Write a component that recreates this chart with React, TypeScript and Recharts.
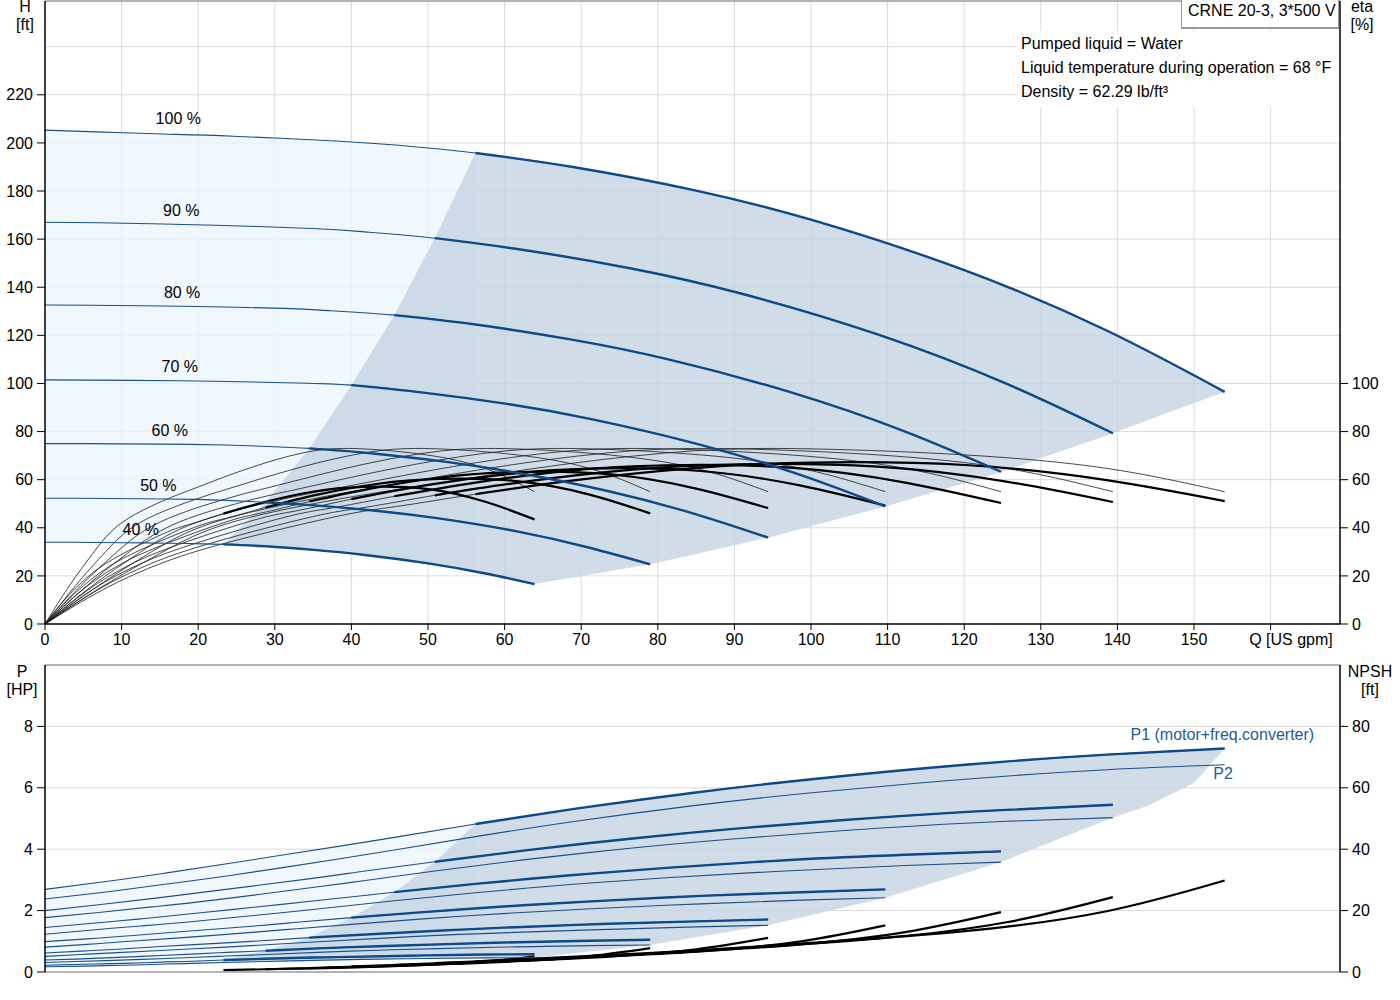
import React from "react";
import {
  Area,
  CartesianGrid,
  ComposedChart,
  Line,
  ReferenceDot,
  ReferenceLine,
  XAxis,
  YAxis,
} from "recharts";

const FONT = '"Liberation Sans", Arial, Helvetica, sans-serif';
const BLUE = "#0d4a87";
const BLUE_THIN = "#1b5089";
const LABEL_BLUE = "#1f5a96";
const LIGHT_FILL = "#ecf5fd";
const DARK_FILL = "#c4d3e2";
const GRID = "#d9d9d9";

const SPEEDS = ["100 %", "90 %", "80 %", "70 %", "60 %", "50 %", "40 %"];
// where each speed label sits (Q, H)
const LABEL_Q = [17.4, 17.8, 17.9, 17.6, 16.3, 14.8, 12.5];
const LABEL_H = [210.4, 172.1, 138, 107.3, 80.7, 57.8, 39.5];

// flow points on each speed curve [US gpm]; index THICK_FROM = start of the operating range
const THICK_FROM = 6;
const FLOW = [
  [0, 7.7, 15.4, 24.6, 38.5, 46.2, 56.2, 69.3, 84.7, 100.1, 120.1, 138.6, 154],
  [0, 7, 13.9, 22.3, 34.9, 41.8, 50.9, 62.7, 76.7, 90.6, 108.7, 125.5, 139.4],
  [0, 6.2, 12.5, 20, 31.2, 37.4, 45.6, 56.2, 68.6, 81.1, 97.3, 112.3, 124.8],
  [0, 5.5, 11, 17.6, 27.4, 32.9, 40, 49.4, 60.3, 71.3, 85.6, 98.7, 109.7],
  [0, 4.7, 9.4, 15.1, 23.6, 28.3, 34.5, 42.5, 51.9, 61.4, 73.6, 85, 94.4],
  [0, 4, 7.9, 12.6, 19.8, 23.7, 28.8, 35.6, 43.5, 51.4, 61.6, 71.1, 79],
  [0, 3.2, 6.4, 10.2, 16, 19.2, 23.3, 28.8, 35.1, 41.5, 49.8, 57.5, 63.9],
];

// head [ft]
const HEAD = [
  [205.3, 204.5, 203.7, 202.8, 200.7, 199, 195.8, 189.8, 180.4, 168, 147, 122, 96.5],
  [167, 166.8, 166.4, 165.8, 164.4, 163, 160.4, 155.4, 147.7, 137.6, 120.4, 99.9, 79.3],
  [132.6, 132.5, 132.3, 132, 131.2, 130.2, 128.4, 124.5, 118.3, 110.2, 96.4, 80, 63.3],
  [101.5, 101.4, 101.3, 101.1, 100.6, 100.2, 99.3, 96.2, 91.5, 85.2, 74.5, 61.9, 48.9],
  [75, 75, 74.9, 74.8, 74.4, 73.9, 73, 71, 67.6, 63, 55.2, 45.6, 35.9],
  [52.3, 52.3, 52.2, 52.1, 51.8, 51.4, 50.6, 49.2, 47, 43.9, 38.5, 31.7, 24.8],
  [34, 34, 33.9, 33.8, 33.6, 33.4, 33.1, 32.3, 30.8, 28.8, 25.3, 21, 16.6],
];

// pump efficiency [%], same shape on every speed curve
const ETA_PUMP = [0, 16, 30, 42.5, 52, 56, 61, 67, 72, 72.8, 70.3, 64.7, 55];

// total efficiency (motor + converter) [%]
const ETA_TOTAL = [
  [0, 14.5, 25.5, 34.5, 45, 49, 54, 59.8, 64.8, 67.1, 66.1, 59.8, 51.1],
  [0, 14.4, 25.2, 34.2, 44.6, 48.5, 53.5, 59.2, 64.2, 66.4, 65.4, 59.2, 50.7],
  [0, 14.3, 25.1, 33.9, 44.3, 48.2, 53.1, 58.8, 63.8, 66, 65, 58.8, 50.3],
  [0, 13.9, 24.5, 33.2, 43.3, 47.1, 51.9, 57.5, 62.3, 64.6, 63.6, 57.5, 49.2],
  [0, 13.7, 24, 32.5, 42.4, 46.2, 50.9, 56.3, 61, 63.2, 62.3, 56.3, 48.2],
  [0, 13, 22.9, 31, 40.5, 44, 48.5, 53.8, 58.3, 60.3, 59.4, 53.8, 46],
  [0, 12.3, 21.7, 29.3, 38.3, 41.7, 45.9, 50.8, 55.1, 57, 56.2, 50.8, 43.5],
];

// P1 (motor + freq. converter) [HP]
const P1 = [
  [2.69, 2.94, 3.21, 3.56, 4.1, 4.41, 4.82, 5.32, 5.84, 6.28, 6.75, 7.08, 7.28],
  [2.0, 2.19, 2.39, 2.65, 3.05, 3.29, 3.59, 3.96, 4.35, 4.68, 5.03, 5.28, 5.45],
  [1.45, 1.59, 1.73, 1.92, 2.21, 2.38, 2.6, 2.87, 3.15, 3.39, 3.65, 3.82, 3.93],
  [0.99, 1.08, 1.18, 1.31, 1.5, 1.62, 1.77, 1.95, 2.14, 2.3, 2.48, 2.6, 2.69],
  [0.62, 0.68, 0.74, 0.83, 0.95, 1.02, 1.12, 1.23, 1.35, 1.46, 1.57, 1.65, 1.71],
  [0.39, 0.42, 0.46, 0.51, 0.59, 0.64, 0.69, 0.77, 0.84, 0.9, 0.97, 1.02, 1.05],
  [0.22, 0.24, 0.26, 0.28, 0.33, 0.35, 0.39, 0.43, 0.47, 0.5, 0.54, 0.57, 0.58],
];

// P2 (shaft) [HP]
const P2 = [
  [2.38, 2.6, 2.85, 3.16, 3.69, 4.0, 4.41, 4.91, 5.42, 5.84, 6.28, 6.59, 6.75],
  [1.77, 1.94, 2.12, 2.35, 2.75, 2.98, 3.29, 3.66, 4.04, 4.35, 4.68, 4.91, 5.03],
  [1.23, 1.37, 1.5, 1.66, 1.94, 2.1, 2.32, 2.58, 2.85, 3.07, 3.3, 3.47, 3.58],
  [0.81, 0.9, 1.0, 1.11, 1.3, 1.41, 1.55, 1.73, 1.91, 2.06, 2.22, 2.34, 2.42],
  [0.51, 0.57, 0.63, 0.7, 0.81, 0.88, 0.97, 1.08, 1.2, 1.29, 1.39, 1.47, 1.52],
  [0.31, 0.34, 0.37, 0.41, 0.48, 0.52, 0.57, 0.64, 0.71, 0.76, 0.82, 0.86, 0.88],
  [0.17, 0.18, 0.2, 0.22, 0.26, 0.28, 0.31, 0.34, 0.38, 0.41, 0.44, 0.46, 0.47],
];

// NPSH [ft], only over the operating range (from THICK_FROM)
const NPSH = [
  [3.5, 5, 7, 9.5, 13.3, 19.8, 29.8],
  [2.9, 4.1, 5.7, 7.8, 10.9, 16.2, 24.4],
  [2.3, 3.3, 4.6, 6.2, 8.7, 13, 19.5],
  [1.8, 2.5, 3.5, 4.8, 6.7, 10, 15.2],
  [1.3, 1.9, 2.6, 3.6, 5, 7.4, 11.1],
  [0.9, 1.3, 1.8, 2.5, 3.5, 5.2, 7.8],
  [0.6, 0.9, 1.2, 1.6, 2.3, 3.4, 5.1],
];

// shaded regions, head chart
const H_LIGHT_Q = [0, 7.7, 15.4, 24.6, 38.5, 46.2, 56.2];
const H_LIGHT_LOW = [34, 33.9, 33.8, 32.9, 29.7, 26.8, 21.7];
const H_LIGHT_HIGH = [205.3, 204.5, 203.7, 202.8, 200.7, 199, 195.8];
const H_DARK_Q = [23.3, 28.8, 34.5, 40, 45.6, 50.9, 56.2, 63.9, 69.3, 79, 84.7, 94.4, 100.1, 109.7, 120.1, 124.8, 130, 138.6, 139.4, 147, 154];
const H_DARK_LOW = [33.1, 32.3, 31, 29.3, 27, 24.7, 21.7, 16.6, 19.5, 24.8, 28.9, 35.9, 40.7, 48.8, 58.6, 63.1, 68.9, 78.4, 79.3, 88.3, 96.5];
const H_DARK_HIGH = [33.1, 50.6, 73, 99.3, 128.4, 160.4, 195.8, 192.5, 189.8, 184.2, 180.4, 173, 168, 158.7, 147, 141.1, 134.4, 122, 120.7, 108.6, 96.5];

// shaded regions, power chart
const P_LIGHT_Q = [0, 7.7, 15.4, 24.6, 38.5, 46.2, 56.2];
const P_LIGHT_LOW = [0.17, 0.19, 0.22, 0.3, 0.39, 0.43, 0.46];
const P_LIGHT_HIGH = [2.69, 2.94, 3.21, 3.56, 4.1, 4.41, 4.82];
const P_DARK_Q = [23.3, 28.8, 34.5, 40, 45.6, 50.9, 56.2, 63.9, 69.3, 79, 84.7, 94.4, 100.1, 109.7, 120.1, 124.8, 138.6, 139.4, 143.8, 150, 154];
const P_DARK_LOW = [0.31, 0.35, 0.38, 0.4, 0.43, 0.45, 0.46, 0.47, 0.62, 0.88, 1.12, 1.52, 1.86, 2.42, 3.22, 3.58, 4.95, 5.03, 5.4, 6.16, 7.28];
const P_DARK_HIGH = [0.39, 0.69, 1.12, 1.77, 2.6, 3.59, 4.82, 5.12, 5.32, 5.65, 5.84, 6.13, 6.28, 6.52, 6.75, 6.85, 7.08, 7.09, 7.16, 7.24, 7.28];

const Q_TICKS = [0, 10, 20, 30, 40, 50, 60, 70, 80, 90, 100, 110, 120, 130, 140, 150, 160];
const H_TICKS = [0, 20, 40, 60, 80, 100, 120, 140, 160, 180, 200, 220];
const H_GRID = [20, 40, 60, 80, 100, 120, 140, 160, 180, 200, 220, 240];
const ETA_TICKS = [0, 20, 40, 60, 80, 100];
const P_TICKS = [0, 2, 4, 6, 8];
const NPSH_TICKS = [0, 20, 40, 60, 80];
const V_GRID = [10, 20, 30, 40, 50, 60, 70, 80, 90, 100, 110, 120, 130, 140, 150, 160];

const Q_MAX = 169.06;

const pts = (qs: number[], vs: number[]) => qs.map((q, i) => ({ q, v: vs[i] }));
const band = (qs: number[], lo: number[], hi: number[]) =>
  qs.map((q, i) => ({ q, range: [lo[i], hi[i]] }));

const tickStyle = { fontSize: 16, fontFamily: FONT, fill: "#000" };
const common = { dot: false, activeDot: false, isAnimationActive: false } as const;

function Txt({
  x,
  y,
  children,
  center = false,
  color = "#000",
}: {
  x: number;
  y: number;
  children: React.ReactNode;
  center?: boolean;
  color?: string;
}) {
  return (
    <div
      style={{
        position: "absolute",
        left: x,
        top: y - 10,
        transform: center ? "translateX(-50%)" : undefined,
        fontFamily: FONT,
        fontSize: 16,
        lineHeight: "20px",
        color,
        whiteSpace: "nowrap",
      }}
    >
      {children}
    </div>
  );
}

function HeadChart() {
  return (
    <ComposedChart width={1400} height={660} margin={{ top: 1, right: 0, bottom: 0, left: 0 }}>
      <CartesianGrid stroke={GRID} horizontalValues={H_GRID} verticalValues={V_GRID} />
      <XAxis
        type="number"
        dataKey="q"
        domain={[0, Q_MAX]}
        allowDataOverflow
        ticks={Q_TICKS}
        interval={0}
        tickFormatter={(v) => (v === 160 ? "" : String(v))}
        height={36}
        tickSize={6}
        tickMargin={4}
        axisLine={{ stroke: "#000", strokeWidth: 1.5 }}
        tickLine={{ stroke: "#000" }}
        tick={tickStyle}
      />
      <YAxis
        type="number"
        domain={[0, 259]}
        allowDataOverflow
        ticks={H_TICKS}
        interval={0}
        width={45}
        tickSize={8}
        tickMargin={4}
        axisLine={{ stroke: "#000", strokeWidth: 1.5 }}
        tickLine={{ stroke: "#000" }}
        tick={tickStyle}
      />
      <YAxis
        yAxisId="eta"
        orientation="right"
        type="number"
        domain={[0, 259]}
        allowDataOverflow
        ticks={ETA_TICKS}
        interval={0}
        width={60}
        tickSize={8}
        tickMargin={4}
        axisLine={{ stroke: "#000", strokeWidth: 1.5 }}
        tickLine={{ stroke: "#000" }}
        tick={tickStyle}
      />
      <ReferenceLine y={259} stroke="#9a9a9a" strokeWidth={1.5} />

      <Area
        data={band(H_LIGHT_Q, H_LIGHT_LOW, H_LIGHT_HIGH)}
        dataKey="range"
        type="linear"
        stroke="none"
        fill={LIGHT_FILL}
        fillOpacity={0.8}
        {...common}
      />
      <Area
        data={band(H_DARK_Q, H_DARK_LOW, H_DARK_HIGH)}
        dataKey="range"
        type="linear"
        stroke="none"
        fill={DARK_FILL}
        fillOpacity={0.8}
        {...common}
      />

      {SPEEDS.map((s, i) => (
        <Line
          key={`ep-${s}`}
          yAxisId="eta"
          data={pts(FLOW[i], ETA_PUMP)}
          dataKey="v"
          type="natural"
          stroke="#1a1a1a"
          strokeWidth={0.8}
          {...common}
        />
      ))}
      {SPEEDS.map((s, i) => (
        <Line
          key={`et-${s}`}
          yAxisId="eta"
          data={pts(FLOW[i], ETA_TOTAL[i])}
          dataKey="v"
          type="natural"
          stroke="#1a1a1a"
          strokeWidth={0.8}
          {...common}
        />
      ))}
      {SPEEDS.map((s, i) => (
        <Line
          key={`etk-${s}`}
          yAxisId="eta"
          data={pts(FLOW[i].slice(THICK_FROM), ETA_TOTAL[i].slice(THICK_FROM))}
          dataKey="v"
          type="natural"
          stroke="#000"
          strokeWidth={2.2}
          {...common}
        />
      ))}
      {SPEEDS.map((s, i) => (
        <Line
          key={`h-${s}`}
          data={pts(FLOW[i], HEAD[i])}
          dataKey="v"
          type="natural"
          stroke={BLUE_THIN}
          strokeWidth={1.1}
          {...common}
        />
      ))}
      {SPEEDS.map((s, i) => (
        <Line
          key={`hk-${s}`}
          data={pts(FLOW[i].slice(THICK_FROM), HEAD[i].slice(THICK_FROM))}
          dataKey="v"
          type="natural"
          stroke={BLUE}
          strokeWidth={2.4}
          {...common}
        />
      ))}
      {SPEEDS.map((s, i) => (
        <ReferenceDot
          key={`lbl-${s}`}
          x={LABEL_Q[i]}
          y={LABEL_H[i]}
          r={0}
          stroke="none"
          fill="none"
          label={{ value: s, position: "center", fill: "#000", fontSize: 16, fontFamily: FONT }}
        />
      ))}
    </ComposedChart>
  );
}

function PowerChart() {
  return (
    <ComposedChart width={1400} height={340} margin={{ top: 25, right: 0, bottom: 0, left: 0 }}>
      <CartesianGrid stroke={GRID} horizontalValues={[2, 4, 6, 8]} verticalValues={V_GRID} />
      <XAxis
        type="number"
        dataKey="q"
        domain={[0, Q_MAX]}
        allowDataOverflow
        ticks={Q_TICKS}
        height={8}
        tick={false}
        tickLine={false}
        axisLine={{ stroke: "#9a9a9a", strokeWidth: 1.5 }}
      />
      <YAxis
        type="number"
        domain={[0, 10]}
        allowDataOverflow
        ticks={P_TICKS}
        interval={0}
        width={45}
        tickSize={8}
        tickMargin={4}
        axisLine={{ stroke: "#000", strokeWidth: 1.5 }}
        tickLine={{ stroke: "#000" }}
        tick={tickStyle}
      />
      <YAxis
        yAxisId="npsh"
        orientation="right"
        type="number"
        domain={[0, 100]}
        allowDataOverflow
        ticks={NPSH_TICKS}
        interval={0}
        width={60}
        tickSize={8}
        tickMargin={4}
        axisLine={{ stroke: "#000", strokeWidth: 1.5 }}
        tickLine={{ stroke: "#000" }}
        tick={tickStyle}
      />
      <ReferenceLine y={10} stroke="#9a9a9a" strokeWidth={1.5} />

      <Area
        data={band(P_LIGHT_Q, P_LIGHT_LOW, P_LIGHT_HIGH)}
        dataKey="range"
        type="linear"
        stroke="none"
        fill={LIGHT_FILL}
        fillOpacity={0.8}
        {...common}
      />
      <Area
        data={band(P_DARK_Q, P_DARK_LOW, P_DARK_HIGH)}
        dataKey="range"
        type="linear"
        stroke="none"
        fill={DARK_FILL}
        fillOpacity={0.8}
        {...common}
      />

      {SPEEDS.map((s, i) => (
        <Line
          key={`n-${s}`}
          yAxisId="npsh"
          data={pts(FLOW[i].slice(THICK_FROM), NPSH[i])}
          dataKey="v"
          type="natural"
          stroke="#000"
          strokeWidth={2.2}
          {...common}
        />
      ))}
      {SPEEDS.map((s, i) => (
        <Line
          key={`p2-${s}`}
          data={pts(FLOW[i], P2[i])}
          dataKey="v"
          type="natural"
          stroke={BLUE_THIN}
          strokeWidth={1.1}
          {...common}
        />
      ))}
      {SPEEDS.map((s, i) => (
        <Line
          key={`p1-${s}`}
          data={pts(FLOW[i], P1[i])}
          dataKey="v"
          type="natural"
          stroke={BLUE_THIN}
          strokeWidth={1.1}
          {...common}
        />
      ))}
      {SPEEDS.map((s, i) => (
        <Line
          key={`p1k-${s}`}
          data={pts(FLOW[i].slice(THICK_FROM), P1[i].slice(THICK_FROM))}
          dataKey="v"
          type="natural"
          stroke={BLUE}
          strokeWidth={2.4}
          {...common}
        />
      ))}
      <ReferenceDot
        x={153.7}
        y={7.75}
        r={0}
        stroke="none"
        fill="none"
        label={{ value: "P1 (motor+freq.converter)", position: "center", fill: LABEL_BLUE, fontSize: 16, fontFamily: FONT }}
      />
      <ReferenceDot
        x={153.8}
        y={6.48}
        r={0}
        stroke="none"
        fill="none"
        label={{ value: "P2", position: "center", fill: LABEL_BLUE, fontSize: 16, fontFamily: FONT }}
      />
    </ComposedChart>
  );
}

export default function App() {
  return (
    <div style={{ position: "absolute", left: 0, top: 0, width: 1400, height: 1000, background: "#fff" }}>
      <div style={{ position: "absolute", left: 0, top: 0 }}>
        <HeadChart />
      </div>
      <div style={{ position: "absolute", left: 0, top: 640 }}>
        <PowerChart />
      </div>

      <Txt x={25} y={7} center>H</Txt>
      <Txt x={25} y={25} center>[ft]</Txt>
      <Txt x={1362} y={7} center>eta</Txt>
      <Txt x={1362} y={25} center>[%]</Txt>
      <Txt x={1291} y={640} center>Q [US gpm]</Txt>
      <Txt x={22} y={672} center>P</Txt>
      <Txt x={22} y={690} center>[HP]</Txt>
      <Txt x={1370} y={672} center>NPSH</Txt>
      <Txt x={1370} y={690} center>[ft]</Txt>

      <div
        style={{
          position: "absolute",
          left: 1017,
          top: 31,
          width: 322,
          height: 76,
          background: "#fff",
        }}
      />
      <Txt x={1021} y={44}>Pumped liquid = Water</Txt>
      <Txt x={1021} y={68}>Liquid temperature during operation = 68 °F</Txt>
      <Txt x={1021} y={92}>Density = 62.29 lb/ft³</Txt>

      <div
        style={{
          position: "absolute",
          left: 1181,
          top: -1,
          width: 158,
          height: 30,
          background: "#fff",
          border: "1px solid #9a9a9a",
          borderBottomWidth: 2,
          boxSizing: "border-box",
        }}
      />
      <Txt x={1188} y={11}>CRNE 20-3, 3*500 V</Txt>
    </div>
  );
}
